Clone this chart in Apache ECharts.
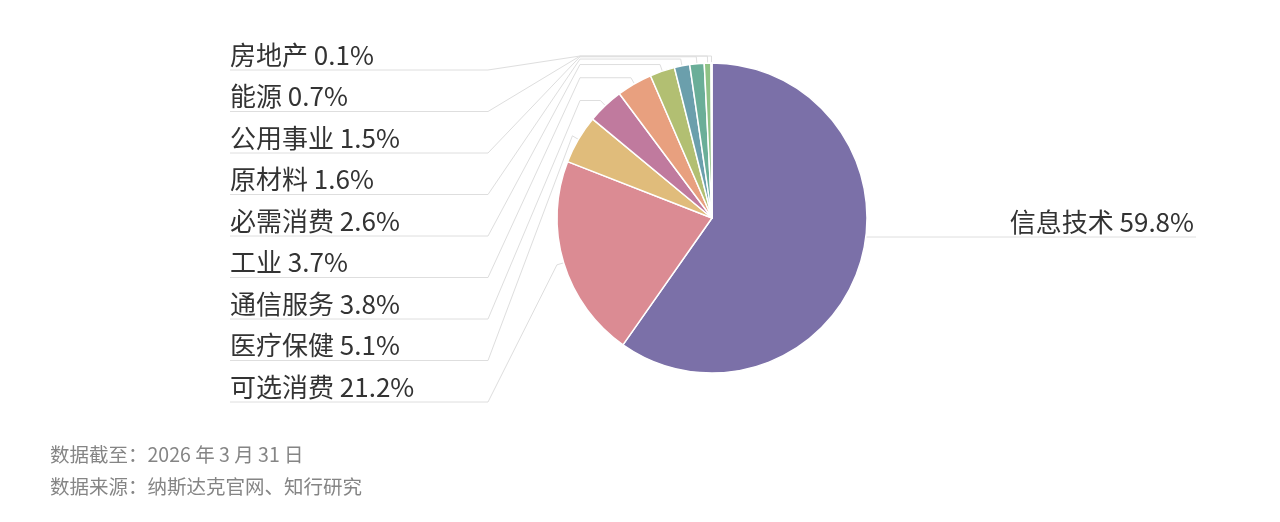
<!DOCTYPE html>
<html>
<head>
<meta charset="utf-8">
<script src="https://cdn.jsdelivr.net/npm/echarts@6/dist/echarts.min.js"></script>
<style>
  html, body { margin: 0; padding: 0; background: #fff; }
  #chart { width: 1280px; height: 522px; }
</style>
</head>
<body>
<div id="chart"></div>
<script>
// 行业占比（%），顺时针从 12 点开始
const sectors = ['信息技术', '可选消费', '医疗保健', '通信服务', '工业', '必需消费', '原材料', '公用事业', '能源', '房地产'];
const weights = [59.8, 21.2, 5.1, 3.8, 3.7, 2.6, 1.6, 1.5, 0.7, 0.1];
const colors = ['#7b70a8', '#db8b93', '#e0bc7b', '#c07a9e', '#e8a07f', '#b2bf72', '#6b9fac', '#6aae98', '#8fc285', '#9aa6c8'];
const notes = ['数据截至：2026 年 3 月 31 日', '数据来源：纳斯达克官网、知行研究'];

const cx = 712, cy = 218, r = 155;
const font = '"Noto Sans CJK SC", "Noto Sans", sans-serif';

let myChart = echarts.init(document.getElementById('chart'));

let option = {
    backgroundColor: '#fff',
    animation: false,
    graphic: notes.map(function (t, i) {
        return {
            type: 'text',
            left: 50,
            top: 445 + i * 32,
            style: { text: t, fill: '#858585', font: '19.5px ' + font }
        };
    }),
    series: [{
        type: 'pie',
        center: [cx, cy],
        radius: r,
        startAngle: 90,
        clockwise: true,
        avoidLabelOverlap: false,
        data: sectors.map(function (n, i) {
            return { name: n, value: weights[i], itemStyle: { color: colors[i] } };
        }),
        itemStyle: { borderColor: '#fff', borderWidth: 1.5 },
        label: {
            show: true,
            position: 'outside',
            color: '#333',
            fontSize: 26,
            fontFamily: font,
            formatter: function (p) { return p.name + ' ' + p.value.toFixed(1) + '%'; }
        },
        labelLine: {
            show: true,
            length: 7,
            length2: 10,
            lineStyle: { color: '#dedede', width: 1 }
        },
        labelLayout: function (params) {
            let pts = params.labelLinePoints;
            if (params.dataIndex === 0) {
                // 右侧单独一条
                let ly = 237;
                let x0 = cx + Math.sqrt(r * r - (ly - cy) * (ly - cy));
                return {
                    x: 1194, y: ly - 2, align: 'right', verticalAlign: 'bottom',
                    labelLinePoints: [[x0, ly], [1196, ly]]
                };
            }
            let row = sectors.length - 1 - params.dataIndex;
            let ly = 70 + row * 41.5;
            let p0 = pts[0], p1 = pts[1];
            let bx = Math.min(580, p1[0]);
            return {
                x: 230, y: ly - 2, align: 'left', verticalAlign: 'bottom',
                labelLinePoints: [p0, p1, [bx, p1[1]], [488, ly], [230, ly]]
            };
        }
    }]
};
myChart.setOption(option);
</script>
</body>
</html>
